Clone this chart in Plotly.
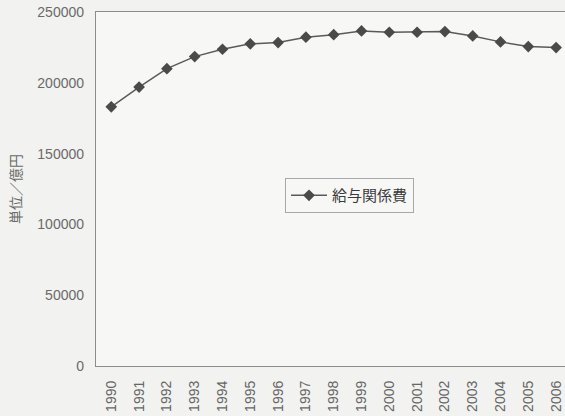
import plotly.graph_objects as go

# 給与関係費（単位：億円）
years = [str(y) for y in range(1990, 2007)]
salary_costs = [183000, 197000, 210000, 218500, 223700, 227500, 228400, 232200,
                234000, 236600, 235700, 235700, 236200, 233100, 228900, 225600, 224900]
y_ticks = [0, 50000, 100000, 150000, 200000, 250000]

num_font = "Liberation Sans, Arial, sans-serif"
jp_font = "Noto Sans CJK JP, sans-serif"

fig = go.Figure()
fig.add_trace(go.Scatter(
    x=years,
    y=salary_costs,
    mode="lines+markers",
    name="給与関係費",
    line=dict(color="#5a5a5a", width=1.5),
    marker=dict(symbol="diamond", size=9, color="#4a4a4a"),
))

fig.update_layout(
    width=565,
    height=416,
    margin=dict(l=96, r=0, t=12, b=50),
    paper_bgcolor="#f2f2f0",
    plot_bgcolor="#f7f7f6",
    showlegend=True,
    legend=dict(
        x=0.403, y=0.531, xanchor="left", yanchor="top",
        bgcolor="#f7f7f6",
        bordercolor="#a8a8a8", borderwidth=1,
        font=dict(family=jp_font, size=15, color="#3a3a3a"),
        itemwidth=36,
    ),
    xaxis=dict(
        type="category",
        range=[-0.55, 16.32],
        showgrid=False,
        showline=True, linecolor="#8c8c8c", linewidth=1.3,
        mirror=True,
        ticks="", tickangle=-90,
        tickfont=dict(family=num_font, size=14, color="#666666"),
        ticklabelstandoff=8,
    ),
    yaxis=dict(
        range=[0, 250000],
        tickvals=y_ticks,
        ticktext=[str(v) for v in y_ticks],
        showgrid=False, zeroline=False,
        showline=True, linecolor="#8c8c8c", linewidth=1.3,
        ticks="",
        tickfont=dict(family=num_font, size=14, color="#6a6a6a"),
        ticklabelstandoff=8,
        title=dict(text="単位／億円", standoff=12,
                   font=dict(family=jp_font, size=14, color="#6a6a6a")),
    ),
)

fig.write_html("out.html")
